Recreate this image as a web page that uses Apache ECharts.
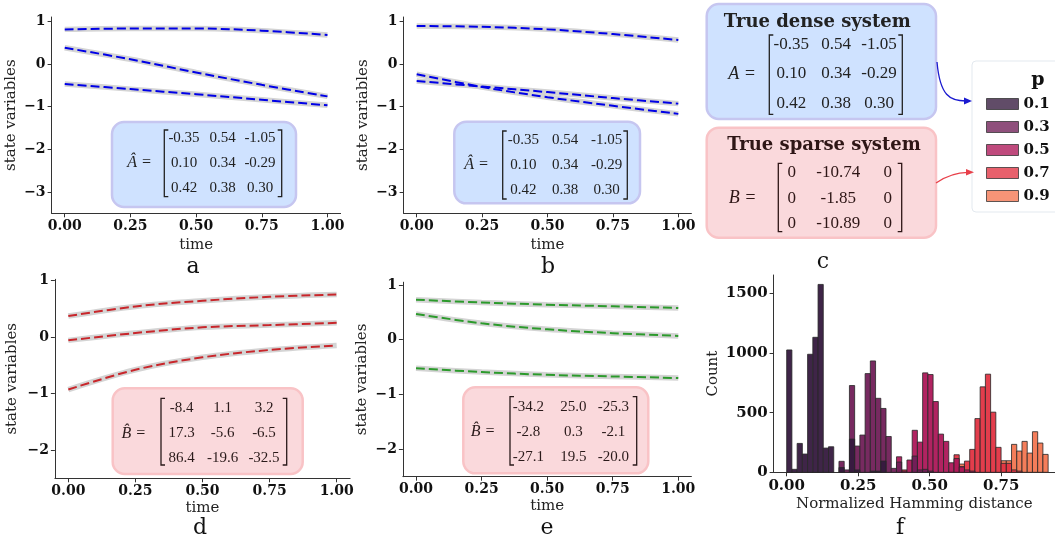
<!DOCTYPE html>
<html><head><meta charset="utf-8">
<script src="https://cdn.jsdelivr.net/npm/echarts@6/dist/echarts.min.js"></script>
<style>html,body{margin:0;padding:0;background:#fff}#c{width:1055px;height:537px}</style>
</head><body><div id="c"></div>
<script>
// ---------- DATA ----------
const timePts = [0, 0.25, 0.5, 0.75, 1];
const a1 = [0.81, 0.83, 0.83, 0.78, 0.68];
const a2 = [0.38, 0.11, -0.20, -0.49, -0.76];
const a3 = [-0.47, -0.59, -0.71, -0.84, -0.97];
const b1 = [0.89, 0.87, 0.81, 0.70, 0.56];
const b2 = [-0.24, -0.54, -0.78, -0.98, -1.17];
const b3 = [-0.40, -0.53, -0.66, -0.80, -0.93];
const d1 = [0.37, 0.54, 0.64, 0.71, 0.75];
const d2 = [-0.06, 0.07, 0.17, 0.21, 0.25];
const d3 = [-0.93, -0.58, -0.36, -0.23, -0.15];
const e1 = [0.73, 0.68, 0.64, 0.61, 0.58];
const e2 = [0.47, 0.30, 0.19, 0.12, 0.07];
const e3 = [-0.52, -0.59, -0.64, -0.67, -0.70];

const timeTicks = [0, 0.25, 0.5, 0.75, 1];
const stateTicksTop = [-3, -2, -1, 0, 1];
const stateTicksBottom = [-2, -1, 0, 1];
const hamTicks = [0, 0.25, 0.5, 0.75];
const countTicks = [0, 500, 1000, 1500];

const pLabels = ['0.1', '0.3', '0.5', '0.7', '0.9'];
const histMax = 0.914;
const nBins = 50;
const h01 = [1025,25,242,153,989,1131,1574,203,214,0, 40,0,278,20,0,0,10,10,94,0, 0,0,0,0,0,0,0,0,0,0, 0,0,0,0,0,0,0,0,0,0, 0,0,0,0,0,0,0,0,0,0];
const h03 = [0,0,0,0,0,0,0,0,0,0, 92,20,727,220,312,827,933,620,535,300, 33,86,0,0,136,20,25,10,0,0, 0,0,0,0,0,0,0,0,0,0, 0,0,0,0,0,0,0,0,0,0];
const h05 = [0,0,0,0,0,0,0,0,0,0, 0,0,0,0,0,0,0,0,0,0, 0,130,10,103,352,253,833,819,593,320, 259,80,115,45,20,10,0,0,0,0, 0,0,0,0,0,0,0,0,0,0];
const h07 = [0,0,0,0,0,0,0,0,0,0, 0,0,0,0,0,0,0,0,0,0, 0,0,20,0,0,0,0,0,0,0, 0,10,147,47,94,192,450,716,822,504, 209,75,75,20,10,0,0,0,0,0];
const h09 = [0,0,0,0,0,0,0,0,0,0, 0,0,0,0,0,0,0,0,0,0, 0,0,0,0,0,0,0,0,0,0, 0,0,0,69,0,0,0,0,0,0, 0,97,97,234,178,259,161,340,245,150];

const matAhat = [['-0.35','0.54','-1.05'],['0.10','0.34','-0.29'],['0.42','0.38','0.30']];
const matBhatD = [['-8.4','1.1','3.2'],['17.3','-5.6','-6.5'],['86.4','-19.6','-32.5']];
const matBhatE = [['-34.2','25.0','-25.3'],['-2.8','0.3','-2.1'],['-27.1','19.5','-20.0']];
const matA = [['-0.35','0.54','-1.05'],['0.10','0.34','-0.29'],['0.42','0.38','0.30']];
const matB = [['0','-10.74','0'],['0','-1.85','0'],['0','-10.89','0']];

// ---------- STYLE ----------
const histColors = ['#35193e', '#701f57', '#ad1759', '#e13342', '#f37651'];
const SERIF = '"DejaVu Serif", serif';
const MATH = '"Liberation Serif", serif';
function fmt(v, d) { const s = Math.abs(v).toFixed(d); return v < 0 ? '\u2212' + s : s; }

function xAxis(gi, min, max, ticks, dec, name, gap, fs) {
  return {
    type: 'value', gridIndex: gi, min, max, splitLine: { show: false },
    axisLine: { show: true, onZero: false, lineStyle: { color: '#333', width: 1 } },
    axisTick: { show: true, length: 4, customValues: ticks, lineStyle: { color: '#333' } },
    axisLabel: { customValues: ticks, formatter: v => fmt(v, dec), margin: 6,
      fontFamily: SERIF, fontWeight: 'bold', fontSize: fs, color: '#111' },
    name, nameLocation: 'middle', nameGap: gap,
    nameTextStyle: { fontFamily: SERIF, fontSize: 15, color: '#222' }
  };
}
function yAxis(gi, min, max, ticks, name, gap, fs) {
  return {
    type: 'value', gridIndex: gi, min, max, splitLine: { show: false },
    axisLine: { show: true, onZero: false, lineStyle: { color: '#333', width: 1 } },
    axisTick: { show: true, length: 4, customValues: ticks, lineStyle: { color: '#333' } },
    axisLabel: { customValues: ticks, formatter: v => fmt(v, 0), margin: 6,
      fontFamily: SERIF, fontWeight: 'bold', fontSize: fs, color: '#111' },
    name, nameLocation: 'middle', nameGap: gap, nameRotate: 90,
    nameTextStyle: { fontFamily: SERIF, fontSize: 15, color: '#222' }
  };
}
function lines(gi, ys, color) {
  const data = timePts.map((t, i) => [t, ys[i]]);
  return [
    { type: 'line', xAxisIndex: gi, yAxisIndex: gi, data, smooth: 0.35, symbol: 'none', silent: true,
      lineStyle: { color: '#d4d4d4', width: 5.5 }, z: 2 },
    { type: 'line', xAxisIndex: gi, yAxisIndex: gi, data, smooth: 0.35, symbol: 'none', silent: true,
      lineStyle: { color, width: 2, type: [9, 4] }, z: 3 }
  ];
}
const binW = histMax / nBins;
function histSeries(idx, counts) {
  const data = [];
  counts.forEach((c, i) => { if (c > 0) data.push([i * binW, (i + 1) * binW, c]); });
  return {
    type: 'custom', name: pLabels[idx], xAxisIndex: 4, yAxisIndex: 4, data,
    itemStyle: { color: histColors[idx] }, z: 10 - idx, silent: true,
    encode: { x: [0, 1], y: 2 },
    renderItem: (params, api) => {
      const p0 = api.coord([api.value(0), api.value(2)]);
      const p1 = api.coord([api.value(1), 0]);
      return { type: 'rect', shape: { x: p0[0], y: p0[1], width: p1[0] - p0[0], height: p1[1] - p0[1] },
        style: { fill: histColors[idx], opacity: 0.95, stroke: 'rgba(40,40,40,0.85)', lineWidth: 1 } };
    }
  };
}

// ---------- ANNOTATIONS ----------
const G = [];
function txt(x, y, text, font, fill, z, align) {
  G.push({ type: 'text', x, y, z: z || 60, style: { text, font, fill: fill || '#222', align: align || 'center', verticalAlign: 'middle' } });
}
function matrix(m) {
  G.push({ type: 'rect', z: 50, shape: { x: m.box[0], y: m.box[1], width: m.box[2], height: m.box[3], r: 12 },
    style: { fill: m.fill, stroke: m.stroke, lineWidth: 2.5 } });
  txt(m.lx, m.ly, m.label, 'italic ' + m.lfs + 'px ' + MATH, m.color);
  const t = m.bt, b = m.bb, L = m.bl, R = m.br;
  G.push({ type: 'polyline', z: 60, shape: { points: [[L + 4, t], [L, t], [L, b], [L + 4, b]] }, style: { stroke: m.color, lineWidth: 1.3, fill: null } });
  G.push({ type: 'polyline', z: 60, shape: { points: [[R - 4, t], [R, t], [R, b], [R - 4, b]] }, style: { stroke: m.color, lineWidth: 1.3, fill: null } });
  m.vals.forEach((row, r) => row.forEach((v, c) => txt(m.cols[c], m.rows[r], v, m.fs + 'px ' + MATH, m.color)));
  if (m.title) txt(m.title[0], m.title[1], m.title[2], 'bold 18px ' + SERIF, m.color);
}
const blueFill = '#cfe2ff', blueStroke = '#c6c6f0', pinkFill = '#fad9dc', pinkStroke = '#f9c3c6';
matrix({ box: [112, 122, 184, 85], fill: blueFill, stroke: blueStroke, label: 'Â =', lx: 139.5, ly: 163, fs: 15, lfs: 16, color: '#222',
  bl: 164.3, br: 281.7, bt: 130, bb: 196.7, rows: [138.3, 163.3, 188.3], cols: [184, 222.7, 260], vals: matAhat });
matrix({ box: [454.3, 121.7, 185.7, 81.6], fill: blueFill, stroke: blueStroke, label: 'Â =', lx: 476.5, ly: 165, fs: 15, lfs: 16, color: '#222',
  bl: 502.7, br: 627.3, bt: 131, bb: 199, rows: [140, 165, 190], cols: [523.3, 565, 606.7], vals: matAhat });
matrix({ box: [112.7, 388.3, 190, 85.7], fill: pinkFill, stroke: pinkStroke, label: 'B\u0302 =', lx: 133.7, ly: 433.3, fs: 15, lfs: 16, color: '#2a1a1a',
  bl: 161, br: 286.7, bt: 398.3, bb: 465, rows: [408.3, 433.3, 458.3], cols: [181.7, 222.7, 264], vals: matBhatD });
matrix({ box: [463.3, 387.3, 185, 86], fill: pinkFill, stroke: pinkStroke, label: 'B\u0302 =', lx: 483, ly: 431.7, fs: 15, lfs: 16, color: '#2a1a1a',
  bl: 510, br: 636.7, bt: 396.7, bb: 465, rows: [406.7, 431.7, 456.7], cols: [528.3, 573.3, 613.3], vals: matBhatE });
matrix({ box: [706.7, 4, 229.3, 115], fill: blueFill, stroke: blueStroke, label: 'A =', lx: 742, ly: 74, fs: 17, lfs: 18, color: '#222',
  bl: 769.3, br: 902.3, bt: 35, bb: 114.3, rows: [45, 74, 104], cols: [791.3, 836, 879], vals: matA,
  title: [817.3, 22.7, 'True dense system'] });
matrix({ box: [706.7, 127.7, 229.3, 110], fill: pinkFill, stroke: pinkStroke, label: 'B =', lx: 742.5, ly: 198.3, fs: 17, lfs: 18, color: '#2e1616',
  bl: 778.3, br: 901.7, bt: 163.3, bb: 231.7, rows: [172.3, 198.3, 224], cols: [791.7, 838.3, 887.7], vals: matB,
  title: [824, 145.7, 'True sparse system'] });

// legend background & title
G.push({ type: 'rect', z: 1, shape: { x: 972, y: 61, width: 100, height: 151, r: 4 }, style: { fill: '#fff', stroke: '#e3e9ef', lineWidth: 1 } });
txt(1038, 80, 'p', 'bold 19px ' + SERIF, '#111', 5);
// arrows
G.push({ type: 'bezierCurve', z: 60, shape: { x1: 937, y1: 62, cpx1: 940, cpy1: 96, cpx2: 950, cpy2: 101, x2: 966, y2: 101 }, style: { stroke: '#1a1ad0', lineWidth: 1.3, fill: null } });
G.push({ type: 'polygon', z: 60, shape: { points: [[972, 101], [964, 97.5], [964, 104.5]] }, style: { fill: '#1a1ad0' } });
G.push({ type: 'bezierCurve', z: 60, shape: { x1: 936, y1: 183, cpx1: 946, cpy1: 176, cpx2: 955, cpy2: 172.3, x2: 968, y2: 172.3 }, style: { stroke: '#e8404a', lineWidth: 1.3, fill: null } });
G.push({ type: 'polygon', z: 60, shape: { points: [[974, 172.3], [966, 169], [966, 175.6]] }, style: { fill: '#e8404a' } });
// panel letters
[['a', 193, 267], ['b', 548, 267], ['c', 823, 262], ['d', 200, 528], ['e', 547, 528], ['f', 900, 528]]
  .forEach(l => txt(l[1], l[2], l[0], '22px ' + SERIF, '#111'));

// ---------- CHART ----------
const chart = echarts.init(document.getElementById('c'), null, { renderer: 'canvas' });
chart.setOption({
  animation: false,
  backgroundColor: '#fff',
  grid: [
    { left: 51.6, top: 17, width: 289, height: 196.3 },
    { left: 403.6, top: 17, width: 287.8, height: 196.3 },
    { left: 54.9, top: 279.3, width: 295.2, height: 199 },
    { left: 402.9, top: 282.2, width: 288.5, height: 194.5 },
    { left: 773.6, top: 275, width: 281.4, height: 197.3 }
  ],
  xAxis: [
    xAxis(0, -0.05, 1.05, timeTicks, 2, 'time', 24, 14),
    xAxis(1, -0.05, 1.05, timeTicks, 2, 'time', 24, 14),
    xAxis(2, -0.05, 1.05, timeTicks, 2, 'time', 22, 14),
    xAxis(3, -0.05, 1.05, timeTicks, 2, 'time', 22, 14),
    xAxis(4, -0.0457, 0.938, hamTicks, 2, 'Normalized Hamming distance', 24, 15)
  ],
  yAxis: [
    yAxis(0, -3.5, 1.1, stateTicksTop, 'state variables', 33, 14),
    yAxis(1, -3.5, 1.1, stateTicksTop, 'state variables', 33, 14),
    yAxis(2, -2.5, 1.02, stateTicksBottom, 'state variables', 35, 14),
    yAxis(3, -2.5, 1.05, stateTicksBottom, 'state variables', 33, 14),
    yAxis(4, 0, 1653, countTicks, 'Count', 53, 15)
  ],
  legend: {
    data: pLabels.map((n, i) => ({ name: n, icon: 'rect', itemStyle: { color: histColors[i], opacity: 0.78, borderColor: '#333', borderWidth: 1 } })),
    orient: 'vertical', left: 981, top: 91, itemWidth: 32, itemHeight: 11, itemGap: 7, selectedMode: false,
    textStyle: { fontFamily: SERIF, fontWeight: 'bold', fontSize: 15, color: '#111', lineHeight: 16 }
  },
  graphic: { elements: G },
  series: [
    ...lines(0, a1, '#0000e6'), ...lines(0, a2, '#0000e6'), ...lines(0, a3, '#0000e6'),
    ...lines(1, b1, '#0000e6'), ...lines(1, b2, '#0000e6'), ...lines(1, b3, '#0000e6'),
    ...lines(2, d1, '#c8262b'), ...lines(2, d2, '#c8262b'), ...lines(2, d3, '#c8262b'),
    ...lines(3, e1, '#2c9a2c'), ...lines(3, e2, '#2c9a2c'), ...lines(3, e3, '#2c9a2c'),
    histSeries(4, h09), histSeries(3, h07), histSeries(2, h05), histSeries(1, h03), histSeries(0, h01)
  ]
});
</script></body></html>
